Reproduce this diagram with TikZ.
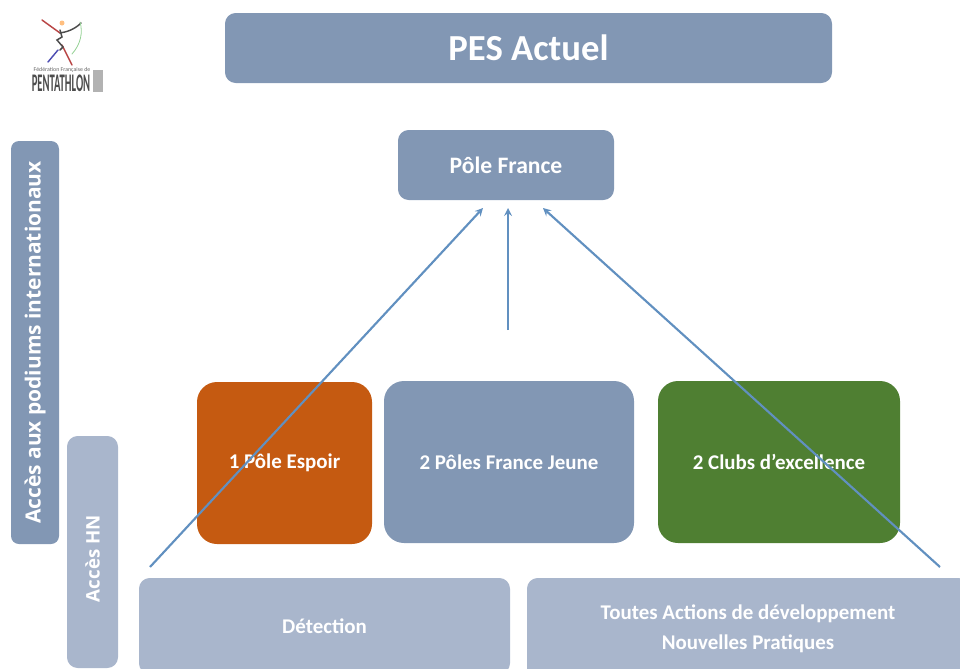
\documentclass[tikz,border=0pt]{standalone}
\usepackage{fontspec}
\setmainfont{Carlito}
\newfontfamily\sidefont{Open Sans}
\usepackage{tikz}
\usetikzlibrary{arrows}
\usetikzlibrary{calc}

\begin{document}
\begin{tikzpicture}[x=0.75pt, y=-0.75pt,
    %Option for nice arrows
    >=stealth, %
    inner sep=0pt, outer sep=0pt,%
    box/.style={rounded corners=#1, align=center, text=white, font=\bfseries\fontsize{15.7}{22.5}\selectfont},
    box/.default=8pt,
    flow/.style={line width=1.6pt,color=arrowblue,->},
    logoline/.style={line width=1.1pt,color=#1,line cap=round},
]
    % Colors
    \definecolor{steel}{HTML}{8297B4}
    \definecolor{lightsteel}{HTML}{A9B6CC}
    \definecolor{espoir}{HTML}{C55A11}
    \definecolor{excellence}{HTML}{4F7F32}
    \definecolor{arrowblue}{HTML}{6190C0}

    % Frame
    \useasboundingbox (0,0) rectangle (960,668);
    \clip (0,0) rectangle (960,668);

    % Title
    \node[box, fill=steel, minimum width=455.25pt, minimum height=52.5pt, font=\bfseries\fontsize{27.5}{32}\selectfont]
        (title) at (528.5,48) {PES Actuel};
    \node[box, fill=steel, minimum width=162pt, minimum height=52.5pt, font=\bfseries\fontsize{17.7}{22}\selectfont]
        (poleFrance) at (506,165) {Pôle France};

    % Side labels
    \node[box=6pt, fill=steel, rotate=90, minimum width=302.25pt, minimum height=36pt, font=\sidefont\bfseries\fontsize{15.7}{18}\selectfont]
        (podiums) at (35,342.5) {Accès aux podiums internationaux};
    \node[box=8pt, fill=lightsteel, rotate=90, minimum width=174pt, minimum height=38.25pt, font=\sidefont\bfseries\fontsize{14}{18}\selectfont]
        (accesHN) at (92.5,552) {Accès HN\hspace*{10pt}};

    % Structures
    \node[box=15pt, fill=espoir, minimum width=131.25pt, minimum height=121.5pt]
        (espoirBox) at (284.5,463) {1 Pôle Espoir};
    \node[box=15pt, fill=steel, minimum width=187.5pt, minimum height=121.5pt]
        (jeuneBox) at (509,462) {2 Pôles France Jeune};
    \node[box=15pt, fill=excellence, minimum width=181.5pt, minimum height=121.5pt]
        (clubsBox) at (779,462) {2 Clubs d’excellence};

    % Base
    \node[box=8pt, fill=lightsteel, minimum width=278.25pt, minimum height=72pt]
        (detection) at (324.5,626) {Détection};
    \node[box=8pt, fill=lightsteel, minimum width=331.5pt, minimum height=76.5pt]
        (actions) at (748,629) {Toutes Actions de développement\\Nouvelles Pratiques};

    % Arrows towards the top structure
    \coordinate (startLeft) at (150,567);
    \coordinate (startMiddle) at (508,330);
    \coordinate (startRight) at (940,567);
    \coordinate (endLeft) at (483,208);
    \coordinate (endMiddle) at (508,208);
    \coordinate (endRight) at (543,208);
    \draw[flow] (startLeft) -- (endLeft);
    \draw[flow] (startMiddle) -- (endMiddle);
    \draw[flow] (startRight) -- (endRight);

    % Logo
    \draw[logoline=red!45!gray] (42,20) -- (60,33);
    \draw[logoline=red!45!gray] (62,45) -- (72,65);
    \draw[logoline=black!70] (60,33) .. controls (66,32) and (74,30) .. (81,23);
    \draw[logoline=black!70] (60,30) -- (62,37) -- (57,40) -- (63,47) -- (60,50);
    \draw[logoline=blue!40!gray] (58,50) -- (48,62);
    \draw[logoline=green!40!gray!60!white, line width=0.6pt] (80,22) .. controls (83,32) and (81,44) .. (72,54);
    \fill[orange!50!white] (62,23) circle (2.5);
    \node[font=\fontsize{4.4}{5}\selectfont, text=black!60] (logoTop) at (62,69.5) {Fédération Française de};
    \node[font=\bfseries\fontsize{19}{20}\selectfont, text=black!70, xscale=0.42] (logoName) at (61,83) {PENTATHLON};
    \fill[black!30] (93,70) rectangle (103,92);

\end{tikzpicture}
\end{document}
